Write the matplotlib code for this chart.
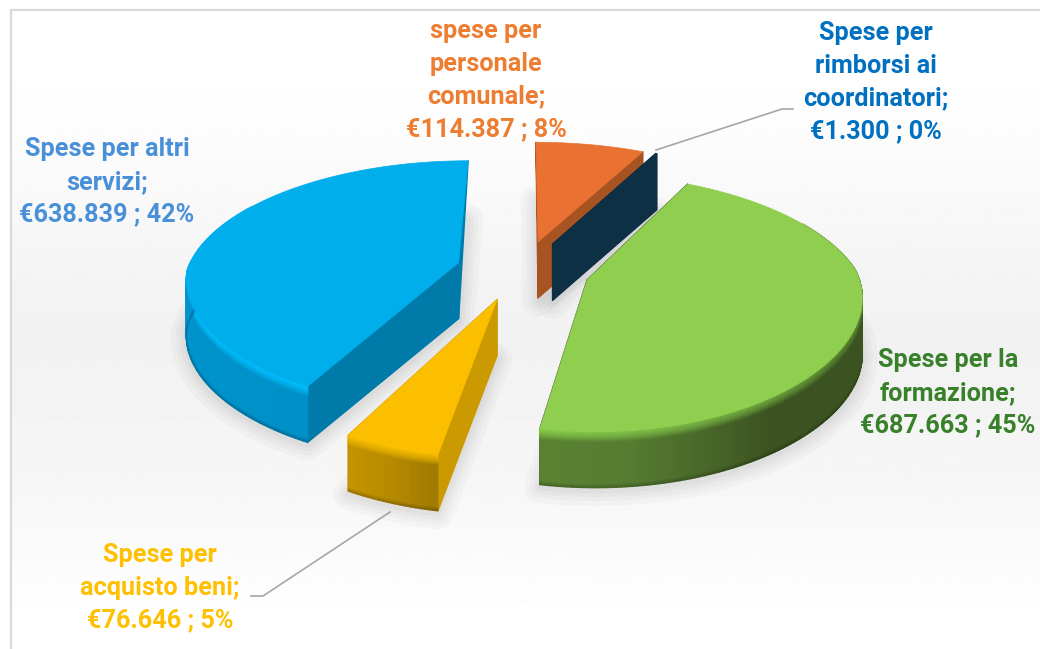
import numpy as np
import matplotlib
matplotlib.use("Agg")
import matplotlib.pyplot as plt
from matplotlib.patches import Polygon
from matplotlib.collections import PolyCollection
from matplotlib.colors import to_rgb

plt.rcParams['font.family'] = ['Roboto', 'DejaVu Sans']

### DATA ###
names = ["spese per\npersonale\ncomunale", "Spese per\nrimborsi ai\ncoordinatori",
         "Spese per la\nformazione", "Spese per\nacquisto beni", "Spese per altri\nservizi"]
values = [114387, 1300, 687663, 76646, 638839]

text_colors = ["#ED7D31", "#0070C0", "#38802A", "#FFC000", "#4A90D9"]
top_colors = ["#E97132", "#0E2F44", "#8FCE4F", "#FBBF00", "#00AEEC"]
cut_colors = ["#A85322", "#0E3044", "#3B5320", "#CB9900", "#007AA8"]
radius_scale = [1.03, 1.03, 0.985, 0.97, 0.99]
x_shift = [0, 0, 0, -3, 0]
label_xy = [(486, 80), (876, 82), (948, 393), (160, 588), (107, 182)]

# wall colours along each arc, (fraction, colour)
wall_stops = [
    [(0, "#A85322"), (1, "#A85322")],
    [(0, "#0E3044"), (1, "#0E3044")],
    [(0, "#3B5320"), (0.72, "#3B5320"), (0.9, "#557C31"), (1, "#5A8232")],
    [(0, "#A17A00"), (0.5, "#B58A00"), (1, "#C49400")],
    [(0, "#0090C8"), (0.6, "#0096CF"), (1, "#00A4DC")],
]
rim_stops = [
    [(0, "#E97132"), (1, "#E97132")],
    [(0, "#0E2F44"), (1, "#0E2F44")],
    [(0, "#4A6B28"), (0.6, "#5C8A33"), (0.85, "#7CBB46"), (1, "#86CC4B")],
    [(0, "#F2B900"), (1, "#F7BD00")],
    [(0, "#00BFFF"), (1, "#00C2FF")],
]

### GEOMETRY ###
CX, CY = 523, 270
R = 274
K = 0.45
P = 0.177
EXPLODE = 0.245
DEPTH = 56
RIM = 0.2


def project(X, Y):
    s = 1 / (1 - P * Y)
    sx = np.where(s > 1, s ** 0.65, s)
    return CX + R * X * sx, CY + R * K * Y * s


def stop_color(stops, f):
    fr = [a for a, c in stops]
    rgb = np.array([to_rgb(c) for a, c in stops])
    return np.array([np.interp(f, fr, rgb[:, i]) for i in range(3)])


def slice_points(start, end, i):
    mid = (start + end) / 2
    ex, ey = EXPLODE * np.sin(mid), -EXPLODE * np.cos(mid)
    r = radius_scale[i]
    t = np.linspace(start, end, max(int(np.degrees(end - start)), 3))
    xs, ys = project(ex + r * np.sin(t), ey - r * np.cos(t))
    ax_, ay_ = project(ex, ey)
    return t, xs + x_shift[i], ys, float(ax_) + x_shift[i], float(ay_)


def draw_wall(ax, t, xs, ys, i):
    polys, cols = [], []
    rows = list(np.linspace(0, RIM, 12)) + [0.95, 0.98, 1.0]
    n = len(xs)
    for j in range(n - 1):
        # the back of the arc is hidden behind the top face
        if np.cos(t[j]) > 0.5:
            continue
        f = j / (n - 2)
        base = stop_color(wall_stops[i], f)
        rim = stop_color(rim_stops[i], f)
        for r in range(len(rows) - 1):
            r0, r1 = rows[r], rows[r + 1]
            if r1 <= RIM:
                q = ((r0 + r1) / 2 / RIM) ** 1.5
                c = rim * (1 - q) + base * q
            elif r1 <= 0.95:
                c = base
            else:
                c = base * (0.92 if r1 <= 0.98 else 0.82)
            polys.append([(xs[j], ys[j] + r0 * DEPTH), (xs[j + 1], ys[j + 1] + r0 * DEPTH),
                          (xs[j + 1], ys[j + 1] + r1 * DEPTH), (xs[j], ys[j] + r1 * DEPTH)])
            cols.append(c)
    ax.add_collection(PolyCollection(polys, facecolors=cols, edgecolors=cols, linewidths=0.9))


def draw_shadow(ax, start, end, i):
    t, xs, ys, ax_, ay_ = slice_points(start, end, i)
    top = np.column_stack([np.r_[ax_, xs], np.r_[ay_, ys]])
    low = top + [0, DEPTH + 3]
    for w in [22, 15, 9, 4]:
        ax.add_patch(Polygon(low, closed=True, fc="none", ec="k", lw=w, alpha=0.022, joinstyle="round"))


def draw_slice(ax, start, end, i):
    t, xs, ys, ax_, ay_ = slice_points(start, end, i)
    top = np.column_stack([np.r_[ax_, xs], np.r_[ay_, ys]])

    # cut faces
    for tt, x, y in [(start, xs[0], ys[0]), (end, xs[-1], ys[-1])]:
        if abs(np.sin(tt)) < 0.05:
            pts = [(x, y), (ax_, ay_), (ax_, ay_ + DEPTH)]
        else:
            pts = [(x, y), (ax_, ay_), (ax_, ay_ + DEPTH), (x, y + DEPTH)]
        ax.add_patch(Polygon(pts, closed=True, fc=cut_colors[i], ec=cut_colors[i], lw=1, joinstyle="round"))

    draw_wall(ax, t, xs, ys, i)
    ax.add_patch(Polygon(top, closed=True, fc=top_colors[i], ec=top_colors[i], lw=0.5))


fig = plt.figure(figsize=(10.4, 6.49), dpi=100)
ax = fig.add_axes([0, 0, 1, 1])

# chart area background
yy = np.linspace(11, 649, 256)
g = np.interp(yy, [11, 110, 330, 480, 620, 649], [1.0, 0.995, 0.945, 0.965, 1.0, 1.0])
ax.imshow(g[:, None], cmap="gray", vmin=0, vmax=1, extent=[12, 1040, 649, 11], aspect="auto", zorder=0)
ax.plot([11, 11, 1040], [649, 10, 10], color="#D9D9D9", lw=1.6, solid_joinstyle="miter")

total = sum(values)
edges = np.r_[0, np.cumsum(values)] / total * 2 * np.pi

order = [4, 0, 1, 2, 3]
for i in order:
    draw_shadow(ax, edges[i], edges[i + 1], i)
for i in order:
    draw_slice(ax, edges[i], edges[i + 1], i)

# leader lines
ax.plot([656, 782, 793], [150, 109, 109], color="#A6A6A6", lw=1.2)
ax.plot([390, 263, 251], [512, 596, 596], color="#A6A6A6", lw=1.2)

for i in range(len(values)):
    euro = f"{values[i]:,}".replace(",", ".")
    pct = round(values[i] / total * 100)
    label = f"{names[i]};\n€{euro} ; {pct}%"
    ax.text(label_xy[i][0], label_xy[i][1], label, color=text_colors[i], ha="center", va="center",
            fontsize=18.2, fontweight="bold", linespacing=1.45)

ax.set_xlim(0, 1040)
ax.set_ylim(649, 0)
ax.axis("off")
fig.savefig("out.png", dpi=100)
